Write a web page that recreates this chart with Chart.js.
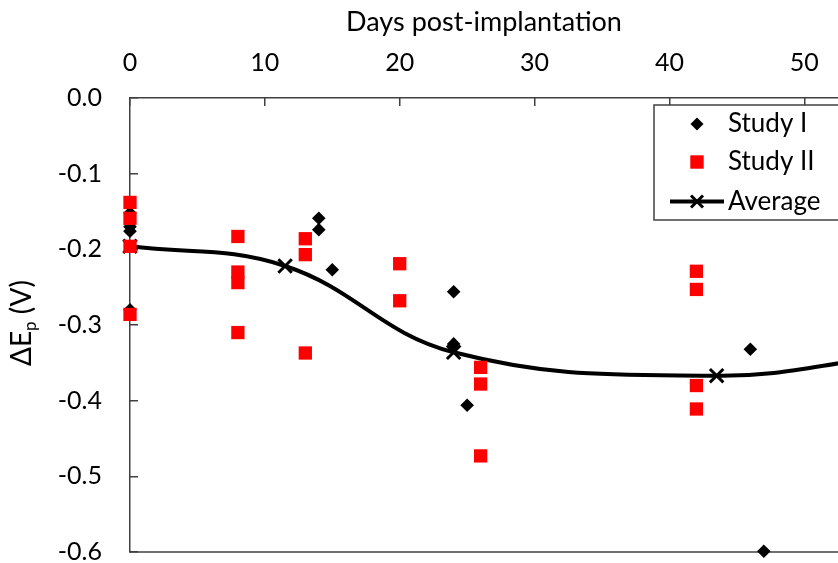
<!DOCTYPE html>
<html lang="en">
<head>
<meta charset="UTF-8">
<title>Days post-implantation</title>
<style>
  html, body { margin: 0; padding: 0; background: #fff; overflow: hidden; }
  #wrap { width: 838px; height: 563px; }
</style>
</head>
<body>
<div id="wrap"><canvas id="chart" width="838" height="563"></canvas></div>
<script src="https://cdn.jsdelivr.net/npm/chart.js"></script>
<script>
// Study I measurements (diamonds)
const studyIDays = [0, 0, 0, 0, 14, 14, 15, 24, 24, 25, 46, 47, 53];
const studyIVals = [-0.152, -0.170, -0.176, -0.280, -0.159, -0.174, -0.227, -0.256, -0.325, -0.406, -0.332, -0.599, -0.343];

// Study II measurements (squares)
const studyIIDays = [0, 0, 0, 0, 8, 8, 8, 8, 13, 13, 13, 20, 20, 26, 26, 26, 42, 42, 42, 42, 53, 53, 53];
const studyIIVals = [-0.138, -0.159, -0.196, -0.286, -0.183, -0.230, -0.244, -0.310, -0.186, -0.207, -0.337,
                     -0.219, -0.268, -0.356, -0.378, -0.473, -0.229, -0.253, -0.380, -0.411, -0.291, -0.321, -0.440];

// averaged curve
const avgDays = [0, 11.5, 24, 43.5, 56];
const avgVals = [-0.196, -0.222, -0.336, -0.367, -0.342];

const xTicks = [0, 10, 20, 30, 40, 50];
const legendLabels = ['Study I', 'Study II', 'Average'];

const FONT = 'Lato, "DejaVu Sans", sans-serif';
const AXIS = '#404040';
const RED = '#ff0000';

const toPoints = (xs, ys) => xs.map((x, i) => ({ x: x, y: ys[i] }));

// fixed axis sizes, no extra room for overhanging labels
const fixSize = (prop, size) => s => {
  s[prop] = size;
  s.paddingTop = s.paddingBottom = s.paddingLeft = s.paddingRight = 0;
};

// boxed legend in the upper right corner
const boxLegend = {
  id: 'boxLegend',
  afterDraw(chart) {
    const ctx = chart.ctx;
    const left = 654, top = 105, bottom = 220;
    const rows = [124, 162, 201.5];
    const mx = 697, tx = 728;
    ctx.save();
    ctx.fillStyle = '#fff';
    ctx.fillRect(left, top, chart.width - left + 5, bottom - top);
    ctx.strokeStyle = AXIS;
    ctx.lineWidth = 1.5;
    ctx.strokeRect(left, top, chart.width - left + 5, bottom - top);

    // diamond
    ctx.fillStyle = '#000';
    ctx.beginPath();
    ctx.moveTo(mx, rows[0] - 6.5);
    ctx.lineTo(mx + 6.5, rows[0]);
    ctx.lineTo(mx, rows[0] + 6.5);
    ctx.lineTo(mx - 6.5, rows[0]);
    ctx.closePath();
    ctx.fill();

    // square
    ctx.fillStyle = RED;
    ctx.fillRect(mx - 6.7, rows[1] - 6.7, 13.4, 13.4);

    // line with cross
    ctx.strokeStyle = '#000';
    ctx.lineWidth = 4;
    ctx.beginPath();
    ctx.moveTo(670, rows[2]);
    ctx.lineTo(724, rows[2]);
    ctx.stroke();
    ctx.lineWidth = 3;
    ctx.beginPath();
    ctx.moveTo(mx - 6, rows[2] - 6); ctx.lineTo(mx + 6, rows[2] + 6);
    ctx.moveTo(mx + 6, rows[2] - 6); ctx.lineTo(mx - 6, rows[2] + 6);
    ctx.stroke();

    ctx.fillStyle = '#000';
    ctx.font = '26px ' + FONT;
    ctx.textBaseline = 'middle';
    ctx.textAlign = 'left';
    legendLabels.forEach((t, i) => ctx.fillText(t, tx, rows[i]));
    ctx.restore();
  }
};

// bottom frame line and the y title with its subscript
const frameAndTitle = {
  id: 'frameAndTitle',
  beforeDatasetsDraw(chart) {
    const { ctx, chartArea } = chart;
    ctx.save();
    ctx.strokeStyle = AXIS;
    ctx.lineWidth = 1.5;
    ctx.beginPath();
    ctx.moveTo(chartArea.left, chartArea.bottom);
    ctx.lineTo(chartArea.right, chartArea.bottom);
    ctx.stroke();
    ctx.restore();
  },
  afterDraw(chart) {
    const ctx = chart.ctx;
    const cy = (chart.chartArea.top + chart.chartArea.bottom) / 2 - 2;
    const parts = [
      { t: '\u0394E', f: '28px ' + FONT, dy: 0 },
      { t: 'p', f: '17px ' + FONT, dy: 5 },
      { t: ' (V)', f: '28px ' + FONT, dy: 0 }
    ];
    ctx.save();
    ctx.translate(31, cy);
    ctx.rotate(-Math.PI / 2);
    ctx.fillStyle = '#000';
    ctx.textBaseline = 'alphabetic';
    ctx.textAlign = 'left';
    let total = 0;
    parts.forEach(p => { ctx.font = p.f; p.w = ctx.measureText(p.t).width; total += p.w; });
    let x = -total / 2;
    parts.forEach(p => { ctx.font = p.f; ctx.fillText(p.t, x, p.dy); x += p.w; });
    ctx.restore();
  }
};

new Chart(document.getElementById('chart'), {
  type: 'scatter',
  data: {
    datasets: [
      {
        label: legendLabels[1],
        data: toPoints(studyIIDays, studyIIVals),
        pointStyle: 'rect',
        pointRadius: 9.4,
        pointHoverRadius: 9.4,
        backgroundColor: RED,
        borderColor: RED,
        borderWidth: 0,
        clip: false
      },
      {
        label: legendLabels[0],
        data: toPoints(studyIDays, studyIVals),
        pointStyle: 'rectRot',
        pointRadius: 6.8,
        pointHoverRadius: 6.8,
        backgroundColor: '#000',
        borderColor: '#000',
        borderWidth: 0,
        clip: false
      },
      {
        label: legendLabels[2],
        data: toPoints(avgDays, avgVals),
        showLine: true,
        tension: 0.4,
        borderColor: '#000',
        borderWidth: 4,
        pointStyle: 'crossRot',
        pointRadius: 9.5,
        pointHoverRadius: 9.5,
        pointBorderWidth: 3,
        pointBorderColor: '#000',
        clip: false
      }
    ]
  },
  options: {
    responsive: false,
    animation: false,
    devicePixelRatio: 1,
    layout: { autoPadding: false, padding: { left: 0, top: 0, right: 0, bottom: 11 } },
    plugins: {
      legend: { display: false },
      tooltip: { enabled: false }
    },
    scales: {
      x: {
        type: 'linear',
        position: 'top',
        min: 0,
        max: 52.5,
        afterBuildTicks: s => { s.ticks = xTicks.map(v => ({ value: v })); },
        afterFit: fixSize('height', 98),
        grid: { drawOnChartArea: false, drawTicks: true, tickLength: -8, color: AXIS, lineWidth: 1.5 },
        border: { display: true, color: AXIS, width: 1.5 },
        // tall line box lifts the labels above the axis instead of tick padding
        ticks: { font: { family: FONT, size: 25, lineHeight: 2.8 }, color: '#000', padding: 8, maxRotation: 0 },
        title: {
          display: true,
          text: 'Days post-implantation',
          color: '#000',
          font: { family: FONT, size: 27 },
          padding: { top: 6, bottom: 0 }
        }
      },
      y: {
        min: -0.6,
        max: 0,
        afterFit: fixSize('width', 130),
        grid: { drawOnChartArea: false, drawTicks: true, tickLength: -8, color: AXIS, lineWidth: 1.5 },
        border: { display: true, color: AXIS, width: 1.5 },
        ticks: {
          stepSize: 0.1,
          font: { family: FONT, size: 25 },
          color: '#000',
          padding: 36,
          callback: v => v.toFixed(1)
        }
      }
    }
  },
  plugins: [frameAndTitle, boxLegend]
});
</script>
</body>
</html>
